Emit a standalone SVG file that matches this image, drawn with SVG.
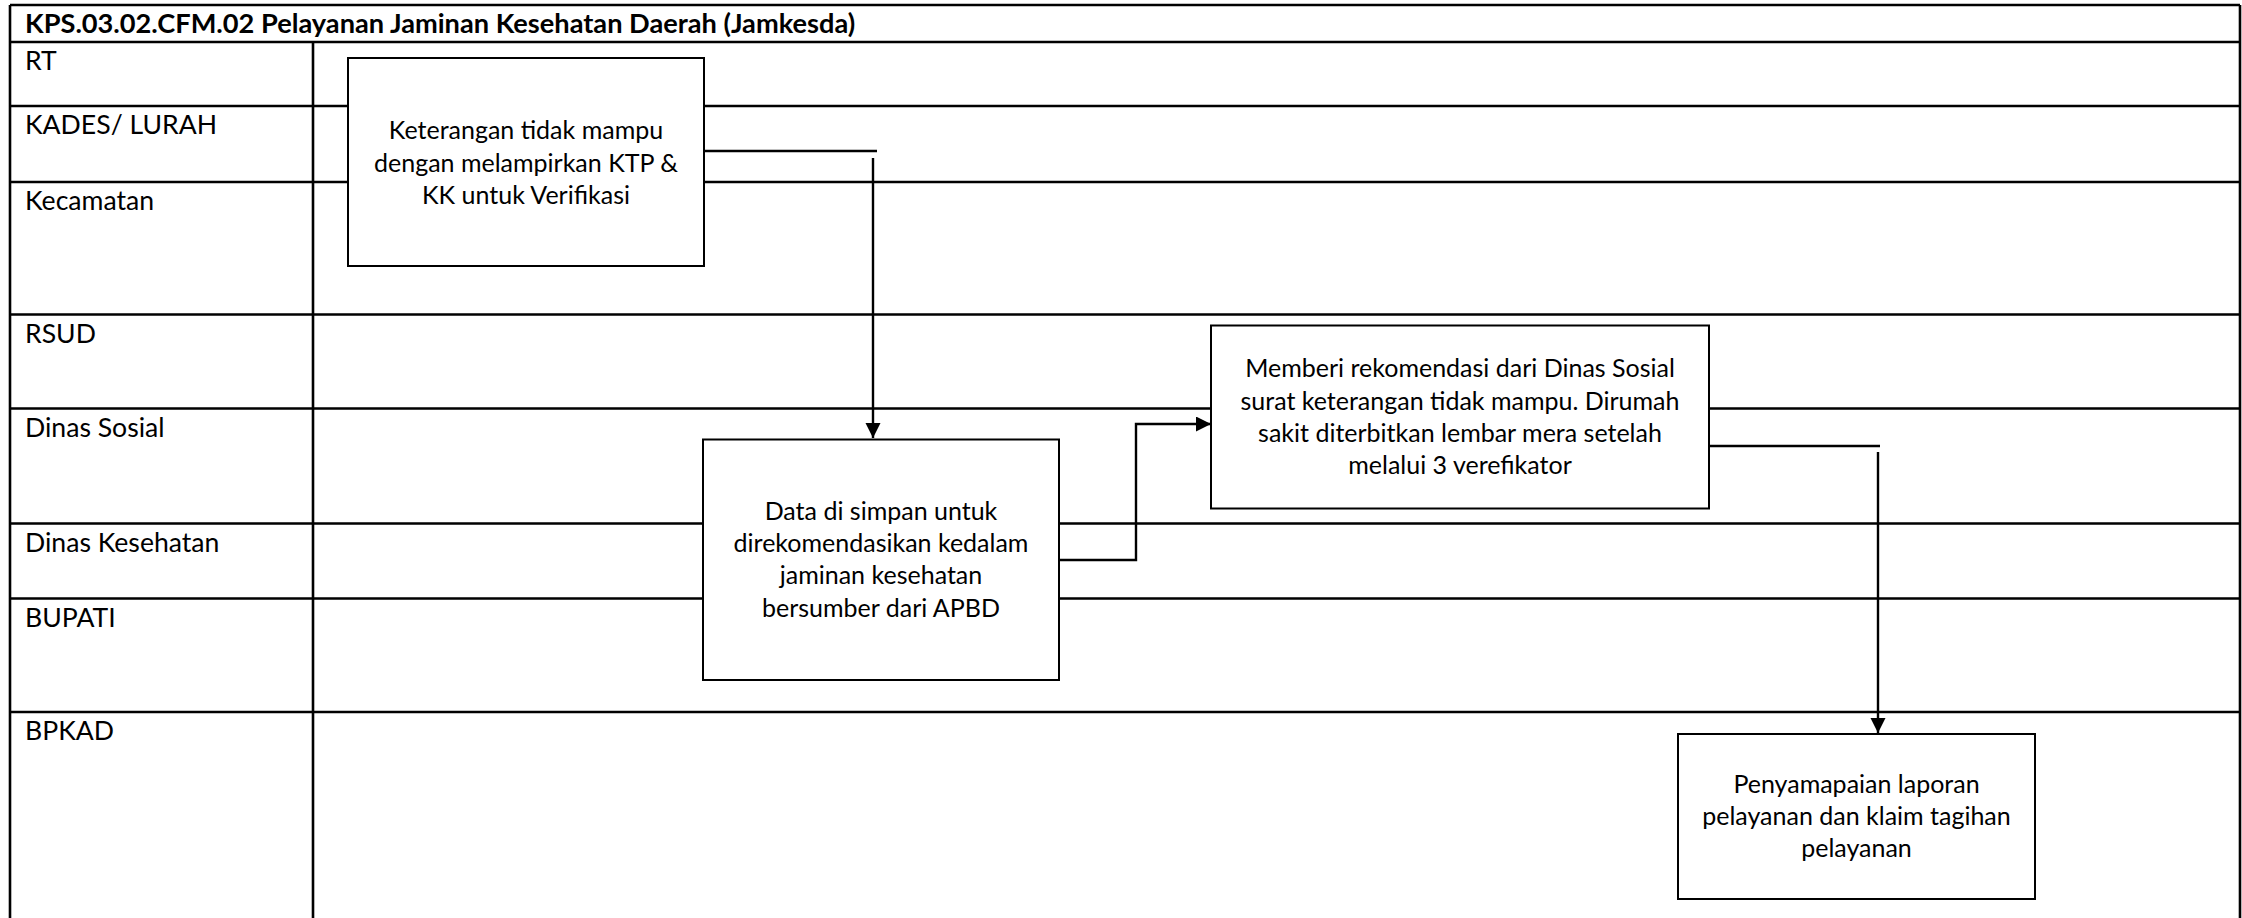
<svg xmlns="http://www.w3.org/2000/svg" width="2242" height="918" viewBox="0 0 2242 918">
<style>
.grid{stroke:#000;stroke-width:2.6;fill:none}
.box{fill:#fff;stroke:#000;stroke-width:2}
.conn{stroke:#000;stroke-width:2.4;fill:none}
.lane{font-family:Lato,"Liberation Sans",sans-serif;font-size:26.6px;fill:#000}
.title{font-family:Lato,"Liberation Sans",sans-serif;font-size:27.2px;font-weight:bold;fill:#000}
.bt{font-family:Lato,"Liberation Sans",sans-serif;font-size:25px;fill:#000;text-anchor:middle}
</style>
<defs>
<marker id="arr" markerUnits="userSpaceOnUse" markerWidth="16" markerHeight="16" refX="15" refY="7.5" orient="auto">
<path d="M0,0 L15,7.5 L0,15 z" fill="#000"/>
</marker>
</defs>
<rect width="2242" height="918" fill="#fff"/>
<g id="frame">
<path class="grid" d="M10,5 H2240 M10,5 V918 M2240,5 V918 M10,42 H2240 M313,42 V918 M10,106 H2240 M10,182 H2240 M10,314.5 H2240 M10,408.5 H2240 M10,523.5 H2240 M10,598.5 H2240 M10,712 H2240"/>
<text class="title" x="25" y="33">KPS.03.02.CFM.02 Pelayanan Jaminan Kesehatan Daerah (Jamkesda)</text>
</g>
<g id="lanes">
<text class="lane" x="25" y="70">RT</text>
<text class="lane" x="25" y="134">KADES/ LURAH</text>
<text class="lane" x="25" y="210">Kecamatan</text>
<text class="lane" x="25" y="342.5">RSUD</text>
<text class="lane" x="25" y="436.5">Dinas Sosial</text>
<text class="lane" x="25" y="551.5">Dinas Kesehatan</text>
<text class="lane" x="25" y="626.5">BUPATI</text>
<text class="lane" x="25" y="740">BPKAD</text>
</g>
<g id="connectors">
<path class="conn" d="M704,151 H877"/>
<path class="conn" d="M873,158 V438" marker-end="url(#arr)"/>
<path class="conn" d="M1059,560 H1136 V424 H1211" marker-end="url(#arr)"/>
<path class="conn" d="M1709,446 H1880"/>
<path class="conn" d="M1878,452 V733" marker-end="url(#arr)"/>
</g>
<g id="node1">
<rect class="box" x="348" y="58" width="356" height="208"/>
<text class="bt" x="526" y="139.3">Keterangan tidak mampu</text>
<text class="bt" x="526" y="171.5">dengan melampirkan KTP &amp;</text>
<text class="bt" x="526" y="203.5">KK untuk Verifikasi</text>
</g>
<g id="node2">
<rect class="box" x="703" y="439.5" width="356" height="240.5"/>
<text class="bt" x="881" y="520">Data di simpan untuk</text>
<text class="bt" x="881" y="552">direkomendasikan kedalam</text>
<text class="bt" x="881" y="584.3">jaminan kesehatan</text>
<text class="bt" x="881" y="617">bersumber dari APBD</text>
</g>
<g id="node3">
<rect class="box" x="1211" y="325.5" width="498" height="183"/>
<text class="bt" x="1460" y="377">Memberi rekomendasi dari Dinas Sosial</text>
<text class="bt" x="1460" y="409.5">surat keterangan tidak mampu. Dirumah</text>
<text class="bt" x="1460" y="441.7">sakit diterbitkan lembar mera setelah</text>
<text class="bt" x="1460" y="474">melalui 3 verefikator</text>
</g>
<g id="node4">
<rect class="box" x="1678" y="734" width="357" height="165"/>
<text class="bt" x="1856.5" y="793.3">Penyamapaian laporan</text>
<text class="bt" x="1856.5" y="825.3">pelayanan dan klaim tagihan</text>
<text class="bt" x="1856.5" y="857.3">pelayanan</text>
</g>
</svg>
